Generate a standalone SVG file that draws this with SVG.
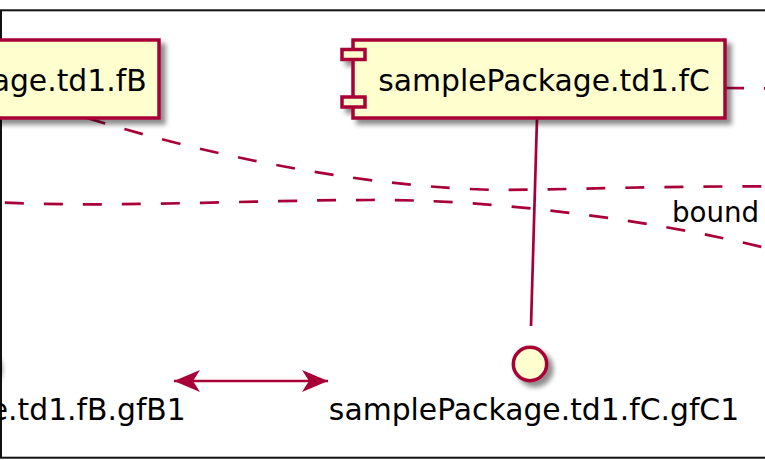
<svg xmlns="http://www.w3.org/2000/svg" width="765" height="460" viewBox="0 0 765 460">
<style>
.box{fill:#FEFECE;stroke:#A80036;stroke-width:3.5}
.lbl{font-family:"DejaVu Sans",sans-serif;font-size:29.8px;fill:#000}
.edge{fill:none;stroke:#A80036;stroke-width:2.7}
.dash{stroke-dasharray:19 20}
.elbl{font-family:"DejaVu Sans",sans-serif;font-size:27.7px;fill:#000}
</style>
<defs>
<filter id="sh" x="-20%" y="-20%" width="150%" height="160%">
<feGaussianBlur in="SourceAlpha" stdDeviation="2.5"/>
<feOffset dx="5" dy="5" result="b"/>
<feComponentTransfer><feFuncA type="linear" slope="0.45"/></feComponentTransfer>
<feMerge><feMergeNode/><feMergeNode in="SourceGraphic"/></feMerge>
</filter>
<marker id="ah" viewBox="0 0 26 22" refX="26" refY="11" markerWidth="26" markerHeight="22" markerUnits="userSpaceOnUse" orient="auto-start-reverse">
<path d="M0,0 L26,11 L0,22 L7,11 Z" fill="#A80036"/>
</marker>
</defs>
<rect width="765" height="460" fill="#fff"/>
<rect x="1" y="10.3" width="800" height="447.4" fill="none" stroke="#111" stroke-width="2"/>
<g id="connectors">
<path class="edge dash" d="M87,118 C230,162 380,188 500,190 C580,189.5 650,186 770,186.5"/>
<path class="edge dash" stroke-dashoffset="14" d="M-20,201 C80,209 250,200 370,200 C490,199 650,219 770,249"/>
<path class="edge dash" d="M725,88 L775,88.5"/>
<path class="edge" d="M537,118 L531,326"/>
<path class="edge" stroke-width="2.2" d="M174,381 L328,381" marker-start="url(#ah)" marker-end="url(#ah)"/>
<text class="elbl" x="672" y="221.5">bound</text>
</g>
<g id="fB">
<g filter="url(#sh)">
<rect class="box" x="-213" y="40" width="372" height="78"/>
<rect class="box" x="-225" y="49.5" width="23" height="10"/>
<rect class="box" x="-225" y="97" width="23" height="10"/>
</g>
<text class="lbl" x="-19" y="91" text-anchor="middle">samplePackage.td1.fB</text>
</g>
<g id="fC">
<g filter="url(#sh)">
<rect class="box" x="353" y="40" width="372" height="78"/>
<rect class="box" x="342" y="49.5" width="23" height="10"/>
<rect class="box" x="342" y="97" width="23" height="10"/>
</g>
<text class="lbl" x="544" y="91" text-anchor="middle">samplePackage.td1.fC</text>
</g>
<g id="gfB1">
<circle class="box" cx="-21" cy="364" r="16.7" filter="url(#sh)"/>
<text class="lbl" x="-19" y="420" text-anchor="middle">samplePackage.td1.fB.gfB1</text>
</g>
<g id="gfC1">
<circle class="box" cx="530" cy="364" r="16.7" filter="url(#sh)"/>
<text class="lbl" x="534" y="420" text-anchor="middle">samplePackage.td1.fC.gfC1</text>
</g>
</svg>
